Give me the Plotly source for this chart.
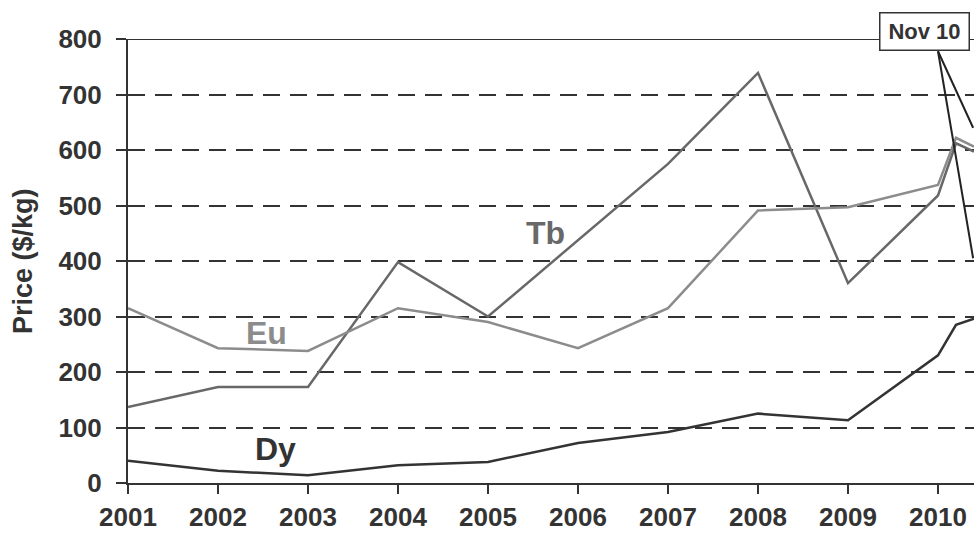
import plotly.graph_objects as go

# ---- data ----
years = [2001, 2002, 2003, 2004, 2005, 2006, 2007, 2008, 2009, 2010, 2010.2, 2010.4]
tb = [137, 173, 173, 398, 300, 437, 575, 739, 360, 518, 612, 597]
eu = [315, 243, 238, 315, 290, 243, 315, 491, 497, 537, 622, 606]
dy = [40, 22, 14, 32, 38, 72, 92, 125, 113, 230, 285, 296]

tick_years = [2001, 2002, 2003, 2004, 2005, 2006, 2007, 2008, 2009, 2010]
y_ticks = [0, 100, 200, 300, 400, 500, 600, 700, 800]

series_names = ["Tb", "Eu", "Dy"]
series_values = [tb, eu, dy]
series_colors = ["#686868", "#8c8c8c", "#333333"]

# label positions (data coords)
label_x = [2005.64, 2002.54, 2002.64]
label_y = [450, 270, 62]

# callout "Nov 10"
callout_text = "Nov 10"
callout_x = 2009.85
callout_origin = (2010.0, 778)
callout_targets = [(2010.39, 640), (2010.39, 405)]

FONT = "Liberation Sans, Arial, sans-serif"
AX = "#333333"

fig = go.Figure()
for name, vals, col in zip(series_names, series_values, series_colors):
    fig.add_trace(go.Scatter(x=years, y=vals, mode="lines", name=name,
                             line=dict(color=col, width=2.5), showlegend=False))

for name, lx, ly, col in zip(series_names, label_x, label_y, series_colors):
    fig.add_annotation(x=lx, y=ly, text=name, showarrow=False,
                       font=dict(family=FONT, size=32, color=col, weight="bold"),
                       xanchor="center", yanchor="middle")

# top border solid line
fig.add_shape(type="line", xref="paper", yref="y", x0=0, x1=1, y0=800, y1=800,
              line=dict(color=AX, width=2), layer="above")

for tx, ty in callout_targets:
    fig.add_shape(type="line", xref="x", yref="y",
                  x0=callout_origin[0], y0=callout_origin[1], x1=tx, y1=ty,
                  line=dict(color="#222222", width=2), layer="above")

fig.add_annotation(x=callout_x, y=1.0158, xref="x", yref="paper",
                   text=callout_text, showarrow=False,
                   font=dict(family=FONT, size=22, color="#333333", weight="bold"),
                   bgcolor="white", bordercolor="#333333", borderwidth=1.5,
                   borderpad=1, width=86, height=34, xanchor="center", yanchor="middle")

fig.add_annotation(x=-0.124, y=0.5, xref="paper", yref="paper", text="Price ($/kg)",
                   textangle=-90, showarrow=False,
                   font=dict(family=FONT, size=27, color="#333333", weight="bold"),
                   xanchor="center", yanchor="middle")

fig.update_layout(
    width=974, height=533,
    margin=dict(l=128, r=0, t=39, b=50, autoexpand=False),
    plot_bgcolor="white", paper_bgcolor="white",
    font=dict(family=FONT, color="#333333"),
    xaxis=dict(range=[2001, 2010.4], tickmode="array", tickvals=tick_years,
               ticktext=[str(y) for y in tick_years], automargin=False,
               showgrid=False, zeroline=False, showline=True, linecolor=AX, linewidth=2,
               ticks="outside", ticklen=9, tickwidth=2, tickcolor=AX, ticklabelstandoff=1,
               tickfont=dict(family=FONT, size=26, color="#333333", weight="bold")),
    yaxis=dict(range=[0, 800], tickmode="array", tickvals=y_ticks, automargin=False,
               showgrid=True, gridcolor=AX, gridwidth=2, griddash="17px,10px",
               zeroline=False, showline=True, linecolor=AX, linewidth=2,
               ticks="outside", ticklen=10, tickwidth=2, tickcolor=AX, ticklabelstandoff=9,
               tickfont=dict(family=FONT, size=26, color="#333333", weight="bold")),
)

fig.write_html("out.html", config={"displayModeBar": False},
               post_script="document.body.style.margin='0px';document.body.style.overflow='hidden';")
